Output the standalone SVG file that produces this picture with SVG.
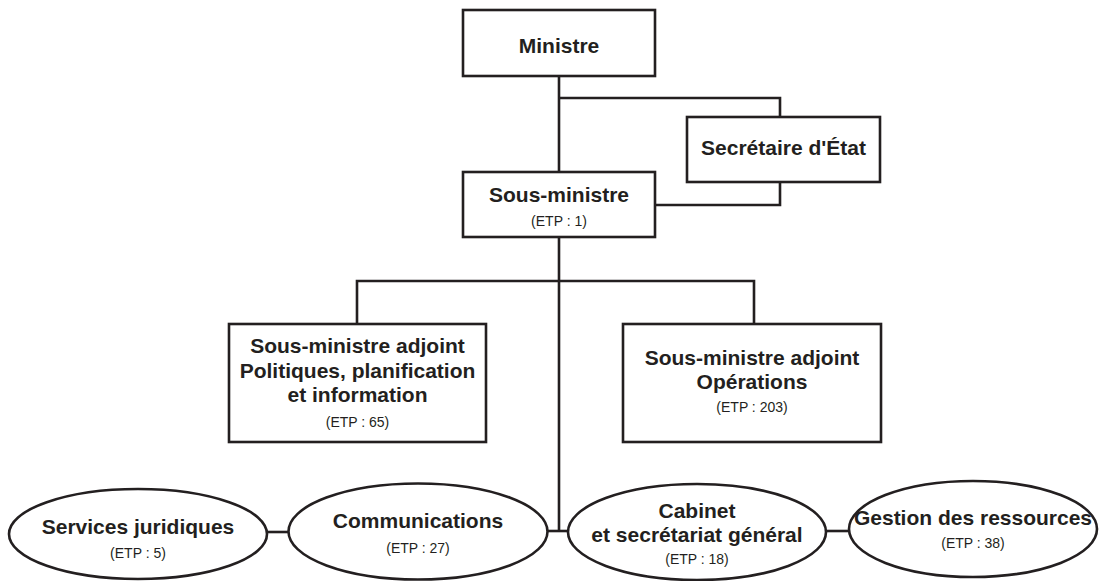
<svg xmlns="http://www.w3.org/2000/svg" width="1099" height="581" viewBox="0 0 1099 581">
<style>
.box{fill:#fff;stroke:#231f20;stroke-width:2.6}
.ln{fill:none;stroke:#231f20;stroke-width:2.6}
.t{font-family:"Liberation Sans",Arial,sans-serif;font-weight:bold;font-size:21px;fill:#231f20;text-anchor:middle}
.e{font-family:"Liberation Sans",Arial,sans-serif;font-size:14px;fill:#231f20;text-anchor:middle}
</style>
<rect width="1099" height="581" fill="#fff"/>
<g id="connectors">
<path class="ln" d="M559 76 V172"/>
<path class="ln" d="M559 98 H780 V117"/>
<path class="ln" d="M780 182 V205 H655"/>
<path class="ln" d="M559 237 V531"/>
<path class="ln" d="M357 324 V281 H754 V324"/>
<path class="ln" d="M267 532 H289"/>
<path class="ln" d="M547 531 H569"/>
<path class="ln" d="M826 531 H849"/>
</g>
<g id="ministre">
<rect class="box" x="463" y="10" width="192" height="66"/>
<text class="t" x="559" y="53">Ministre</text>
</g>
<g id="secretaire">
<rect class="box" x="687" y="117" width="193" height="65"/>
<text class="t" x="783.5" y="155">Secrétaire d'État</text>
</g>
<g id="sous-ministre">
<rect class="box" x="463" y="172" width="192" height="65"/>
<text class="t" x="559" y="202">Sous-ministre</text>
<text class="e" x="559" y="226">(ETP : 1)</text>
</g>
<g id="sma-politiques">
<rect class="box" x="229" y="324" width="257" height="118"/>
<text class="t" x="357.5" y="353">Sous-ministre adjoint</text>
<text class="t" x="357.5" y="378">Politiques, planification</text>
<text class="t" x="357.5" y="402">et information</text>
<text class="e" x="357.5" y="427">(ETP : 65)</text>
</g>
<g id="sma-operations">
<rect class="box" x="623" y="324" width="258" height="118"/>
<text class="t" x="752" y="365">Sous-ministre adjoint</text>
<text class="t" x="752" y="389">Opérations</text>
<text class="e" x="752" y="412">(ETP : 203)</text>
</g>
<g id="services-juridiques">
<ellipse class="box" cx="138" cy="534" rx="129" ry="45"/>
<text class="t" x="138" y="534">Services juridiques</text>
<text class="e" x="138" y="558">(ETP : 5)</text>
</g>
<g id="communications">
<ellipse class="box" cx="418" cy="531.5" rx="129.5" ry="48"/>
<text class="t" x="418" y="528">Communications</text>
<text class="e" x="418" y="553">(ETP : 27)</text>
</g>
<g id="cabinet">
<ellipse class="box" cx="697" cy="532" rx="129" ry="48"/>
<text class="t" x="697" y="518">Cabinet</text>
<text class="t" x="697" y="542">et secrétariat général</text>
<text class="e" x="697" y="564">(ETP : 18)</text>
</g>
<g id="gestion-ressources">
<ellipse class="box" cx="973" cy="529" rx="124" ry="48"/>
<text class="t" x="973" y="525">Gestion des ressources</text>
<text class="e" x="973" y="548">(ETP : 38)</text>
</g>
</svg>
